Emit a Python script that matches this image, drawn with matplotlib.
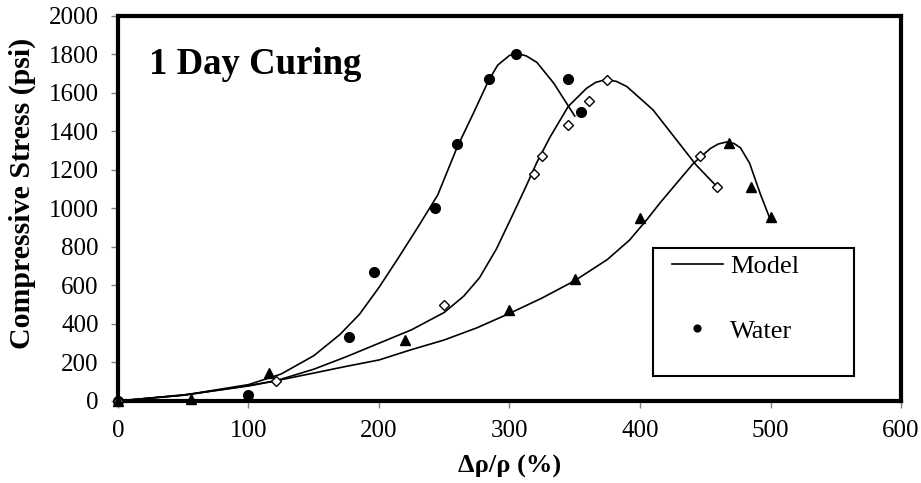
import matplotlib
matplotlib.use("Agg")
import matplotlib.pyplot as plt
from matplotlib.patches import Rectangle

plt.rcParams['font.family'] = ['Liberation Serif', 'DejaVu Serif']

water_x = [0, 100, 177, 196, 243, 260, 284, 305, 345, 355]
water_y = [0, 30, 333, 668, 1002, 1337, 1672, 1805, 1672, 1503]

diamond_x = [0, 121, 250, 319, 325, 345, 361, 375, 446, 459]
diamond_y = [0, 103, 500, 1178, 1273, 1432, 1560, 1670, 1273, 1112]

triangle_x = [0, 56, 116, 220, 300, 350, 400, 468, 485, 500]
triangle_y = [0, 12, 147, 317, 473, 633, 953, 1340, 1112, 955]

# model curves, sampled along the drawn lines
model1_x = [0, 50, 100, 125, 150, 170, 185, 200, 215, 230, 245, 260, 272, 284, 291, 300,
            306, 313, 321, 334, 350]
model1_y = [0, 30, 85, 140, 235, 345, 450, 590, 745, 905, 1070, 1320, 1490, 1665, 1745, 1795,
            1806, 1792, 1759, 1650, 1480]

model2_x = [0, 50, 100, 121, 150, 175, 200, 225, 250, 265, 277, 290, 303, 313, 321, 331, 345,
            359, 366, 374, 382, 390, 410, 428, 443, 459]
model2_y = [0, 30, 78, 105, 165, 230, 300, 370, 460, 545, 640, 790, 975, 1120, 1240, 1370, 1530,
            1624, 1655, 1670, 1660, 1633, 1512, 1356, 1226, 1113]

model3_x = [0, 55, 100, 121, 150, 175, 200, 224, 250, 275, 300, 325, 350, 375, 392, 405, 415,
            428, 441, 454, 460, 466, 472, 477, 484, 492, 499]
model3_y = [0, 35, 80, 105, 145, 180, 213, 265, 317, 380, 455, 535, 625, 735, 836, 940, 1026,
            1131, 1235, 1312, 1335, 1345, 1338, 1315, 1235, 1079, 957]

x_ticks = [0, 100, 200, 300, 400, 500, 600]
y_ticks = [0, 200, 400, 600, 800, 1000, 1200, 1400, 1600, 1800, 2000]

fig = plt.figure(figsize=(9.21, 4.83), dpi=100)
ax = fig.add_axes([0.1281, 0.1698, 0.8502, 0.7971])

ax.plot(model1_x, model1_y, color='black', lw=1.2, label='Model', zorder=2)
ax.plot(model2_x, model2_y, color='black', lw=1.2, zorder=2)
ax.plot(model3_x, model3_y, color='black', lw=1.2, zorder=2)

ax.plot(water_x, water_y, 'o', color='black', ms=7, ls='none', label='Water',
        clip_on=False, zorder=4)
ax.plot(diamond_x, diamond_y, 'D', mfc='white', mec='black', mew=1.0, ms=5,
        ls='none', clip_on=False, zorder=4)
ax.plot(triangle_x, triangle_y, '^', color='black', ms=7.5, ls='none',
        clip_on=False, zorder=4)

ax.set_xlim(0, 600)
ax.set_ylim(0, 2000)
ax.set_xticks(x_ticks)
ax.set_yticks(y_ticks)
ax.tick_params(direction='out', length=5, width=1, color='#808080', labelsize=18)
ax.tick_params(axis='x', pad=9)
ax.tick_params(axis='y', pad=9)

for s in ax.spines.values():
    s.set_linewidth(3)
    s.set_color('black')

ax.set_xlabel('Δρ/ρ (%)', fontsize=19, fontweight='bold', va='top')
ax.xaxis.set_label_coords(0.5, -0.14)
ax.set_ylabel('Compressive Stress (psi)', fontsize=21.5, fontweight='bold', va='center')
ax.yaxis.set_label_coords(-0.122, 0.54)

ax.text(0.04, 0.873, '1 Day Curing', transform=ax.transAxes, fontsize=26.5,
        fontweight='bold', va='center', ha='left')

# legend box (fixed size, like the original)
ax.add_patch(Rectangle((0.683, 0.065), 0.257, 0.332, transform=ax.transAxes,
                       facecolor='white', edgecolor='black', lw=1.5, zorder=5))
leg = ax.legend(loc='upper left', bbox_to_anchor=(0.7075, 0.38), fontsize=19,
                frameon=False, borderpad=0, labelspacing=1.55, handlelength=1.93,
                handletextpad=0.27, borderaxespad=0, markerscale=0.7)
leg.set_zorder(6)

fig.savefig('out.png', dpi=100)
